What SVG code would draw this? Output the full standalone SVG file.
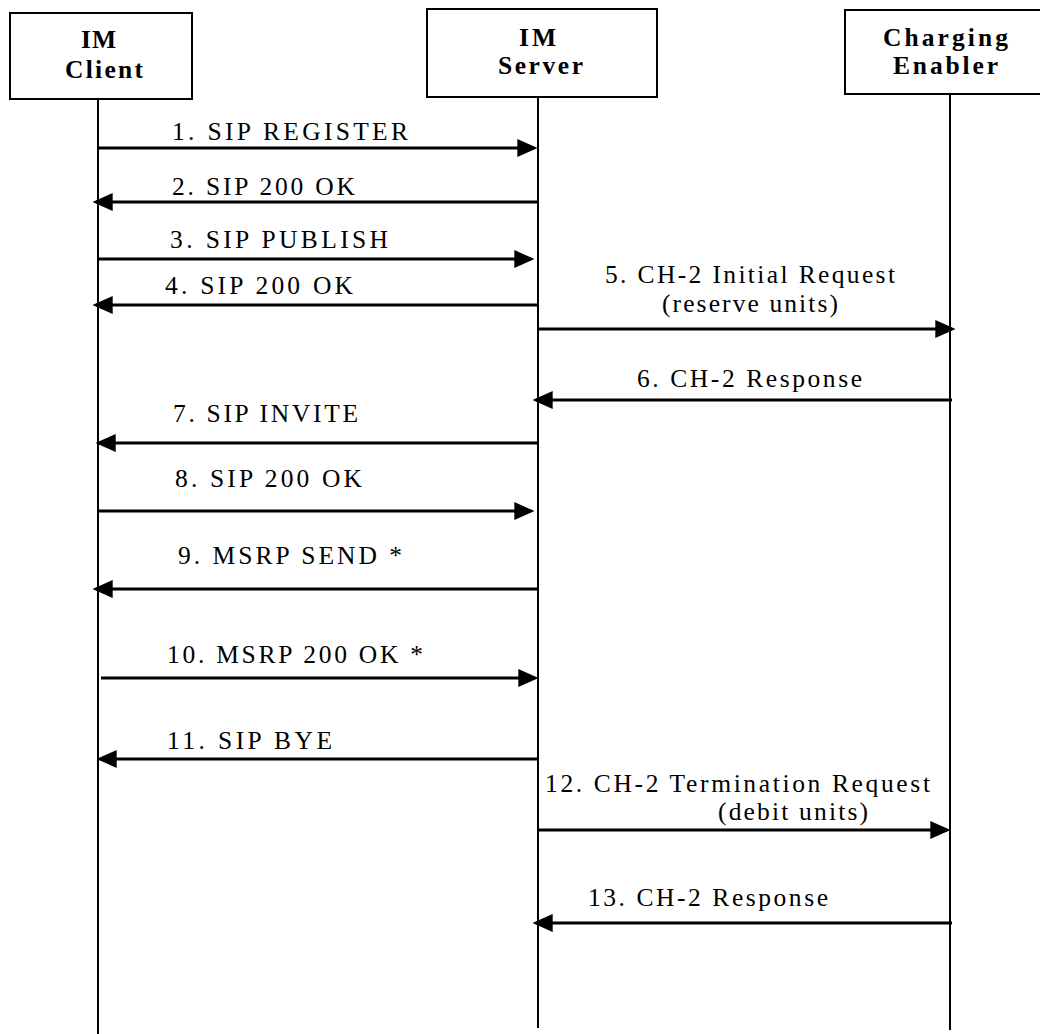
<svg xmlns="http://www.w3.org/2000/svg" width="1040" height="1034" viewBox="0 0 1040 1034" xml:space="preserve">
<style>
  .box { fill: #fff; stroke: #000; stroke-width: 2; }
  .life { stroke: #000; stroke-width: 2; fill: none; }
  .hdr { font-family: "Liberation Serif", "Times New Roman", serif; font-weight: bold; font-size: 25.5px; fill: #000; }
  .msg { stroke: #000; stroke-width: 3; fill: none; }
  .lbl { font-family: "Liberation Serif", "Times New Roman", serif; font-size: 25.5px; fill: #000; }
</style>
<defs>
  <marker id="ah" markerUnits="userSpaceOnUse" markerWidth="20" markerHeight="18" viewBox="0 0 18 16" refX="15" refY="8" orient="auto">
    <path d="M0,0 L18,8 L0,16 z" fill="#000"/>
  </marker>
</defs>
<rect width="1040" height="1034" fill="#fff"/>

<g id="im-client">
  <rect class="box" x="10" y="13" width="182" height="86"/>
  <text class="hdr" x="81" y="48" textLength="35" lengthAdjust="spacing">IM</text>
  <text class="hdr" x="65" y="78" textLength="78" lengthAdjust="spacing">Client</text>
  <line class="life" x1="98" y1="100" x2="98" y2="1034"/>
</g>

<g id="im-server">
  <rect class="box" x="427" y="9" width="230" height="88"/>
  <text class="hdr" x="519" y="46" textLength="37" lengthAdjust="spacing">IM</text>
  <text class="hdr" x="498" y="74" textLength="85" lengthAdjust="spacing">Server</text>
  <line class="life" x1="538" y1="97" x2="538" y2="1028"/>
</g>

<g id="charging-enabler">
  <rect class="box" x="845" y="10" width="205" height="84"/>
  <text class="hdr" x="883" y="46" textLength="125" lengthAdjust="spacing">Charging</text>
  <text class="hdr" x="893" y="74" textLength="105" lengthAdjust="spacing">Enabler</text>
  <line class="life" x1="950" y1="94" x2="950" y2="1030"/>
</g>

<g id="connectors">
  <line class="msg" x1="97" y1="148" x2="534" y2="148" marker-end="url(#ah)"/>
  <line class="msg" x1="539" y1="202" x2="96" y2="202" marker-end="url(#ah)"/>
  <line class="msg" x1="97" y1="259" x2="531" y2="259" marker-end="url(#ah)"/>
  <line class="msg" x1="539" y1="305" x2="96" y2="305" marker-end="url(#ah)"/>
  <line class="msg" x1="537" y1="329" x2="952" y2="329" marker-end="url(#ah)"/>
  <line class="msg" x1="952" y1="400" x2="536" y2="400" marker-end="url(#ah)"/>
  <line class="msg" x1="539" y1="443" x2="99" y2="443" marker-end="url(#ah)"/>
  <line class="msg" x1="97" y1="511" x2="531" y2="511" marker-end="url(#ah)"/>
  <line class="msg" x1="539" y1="589" x2="96" y2="589" marker-end="url(#ah)"/>
  <line class="msg" x1="101" y1="678" x2="535" y2="678" marker-end="url(#ah)"/>
  <line class="msg" x1="539" y1="759" x2="100" y2="759" marker-end="url(#ah)"/>
  <line class="msg" x1="537" y1="830" x2="947" y2="830" marker-end="url(#ah)"/>
  <line class="msg" x1="952" y1="923" x2="536" y2="923" marker-end="url(#ah)"/>
</g>

<g id="labels">
  <text class="lbl" x="172" y="140" textLength="236" lengthAdjust="spacing">1.  SIP REGISTER</text>
  <text class="lbl" x="172" y="195" textLength="183" lengthAdjust="spacing">2.  SIP 200 OK</text>
  <text class="lbl" x="170" y="248" textLength="218" lengthAdjust="spacing">3.  SIP PUBLISH</text>
  <text class="lbl" x="165" y="294" textLength="188" lengthAdjust="spacing">4.  SIP 200 OK</text>
  <text class="lbl" x="605" y="283" textLength="290" lengthAdjust="spacing">5. CH-2 Initial Request</text>
  <text class="lbl" x="662" y="312" textLength="176" lengthAdjust="spacing">(reserve units)</text>
  <text class="lbl" x="637" y="387" textLength="225" lengthAdjust="spacing">6. CH-2 Response</text>
  <text class="lbl" x="173" y="422" textLength="185" lengthAdjust="spacing">7. SIP INVITE</text>
  <text class="lbl" x="175" y="487" textLength="187" lengthAdjust="spacing">8.  SIP 200 OK</text>
  <text class="lbl" x="178" y="564" textLength="224" lengthAdjust="spacing">9. MSRP SEND *</text>
  <text class="lbl" x="167" y="663" textLength="256" lengthAdjust="spacing">10. MSRP 200 OK *</text>
  <text class="lbl" x="167" y="749" textLength="165" lengthAdjust="spacing">11.  SIP BYE</text>
  <text class="lbl" x="545" y="792" textLength="385" lengthAdjust="spacing">12. CH-2 Termination Request</text>
  <text class="lbl" x="718" y="820" textLength="150" lengthAdjust="spacing">(debit units)</text>
  <text class="lbl" x="588" y="906" textLength="240" lengthAdjust="spacing">13. CH-2 Response</text>
</g>
</svg>
